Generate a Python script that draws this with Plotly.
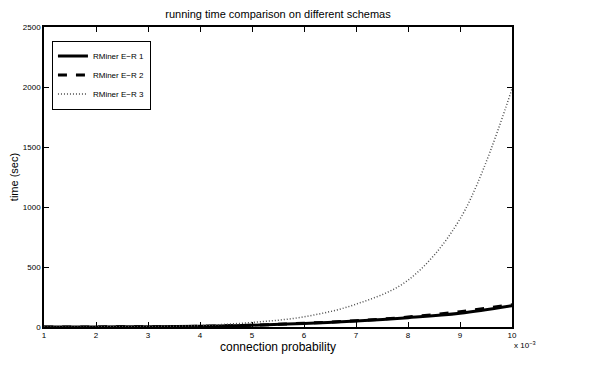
import plotly.graph_objects as go

x_vals = [1, 2, 3, 4, 5, 6, 7, 8, 9, 10]
er1 = [0, 1, 2, 6, 15, 30, 50, 78, 115, 178]
er2 = [0, 1, 2, 6, 15, 31, 52, 83, 128, 186]
er3 = [0, 1, 4, 12, 38, 85, 190, 390, 900, 1985]
names = ["RMiner E\u2212R 1", "RMiner E\u2212R 2", "RMiner E\u2212R 3"]
x_ticks = [1, 2, 3, 4, 5, 6, 7, 8, 9, 10]
y_ticks = [0, 500, 1000, 1500, 2000, 2500]

fig = go.Figure()
fig.add_trace(go.Scatter(x=x_vals, y=er1, name=names[0], mode="lines",
                         line=dict(color="black", width=3, dash="solid", shape="spline")))
fig.add_trace(go.Scatter(x=x_vals, y=er2, name=names[1], mode="lines",
                         line=dict(color="black", width=3, dash="dash", shape="spline")))
fig.add_trace(go.Scatter(x=x_vals, y=er3, name=names[2], mode="lines",
                         line=dict(color="#4d4d4d", width=1.5, dash="1px,2px", shape="spline")))

font = "Liberation Sans, Arial, sans-serif"
axis_common = dict(showline=True, linecolor="black", linewidth=1.5, mirror="ticks",
                   ticks="inside", ticklen=5, tickcolor="black", showgrid=False,
                   zeroline=False, automargin=False,
                   tickfont=dict(family=font, size=8, color="black"))

fig.update_layout(
    width=602, height=387,
    margin=dict(l=36, r=98, t=19, b=68),
    paper_bgcolor="white", plot_bgcolor="white",
    title=dict(text="running time comparison on different schemas", x=0.5, xanchor="center",
               y=0.993, yanchor="top", xref="paper", automargin=False,
               font=dict(family=font, size=11, color="black")),
    xaxis=dict(range=[1, 10], tickvals=x_ticks, ticktext=[str(v) for v in x_ticks],
               title=dict(text="connection probability", standoff=2,
                          font=dict(family=font, size=12, color="black")),
               **axis_common),
    yaxis=dict(range=[0, 2500], tickvals=y_ticks, ticktext=[str(v) for v in y_ticks],
               title=dict(text="time (sec)", standoff=2,
                          font=dict(family=font, size=11, color="black")),
               **axis_common),
    legend=dict(x=0.017, y=0.955, xanchor="left", yanchor="top",
                bgcolor="white", bordercolor="black", borderwidth=1,
                font=dict(family=font, size=8, color="black"),
                tracegroupgap=0, itemwidth=30),
    showlegend=True,
)
fig.add_annotation(text="x 10<sup>\u22123</sup>", xref="paper", yref="paper",
                   x=1.0, y=-0.035, xanchor="left", yanchor="top", showarrow=False,
                   font=dict(family=font, size=8, color="black"))

fig.write_html("out.html")
